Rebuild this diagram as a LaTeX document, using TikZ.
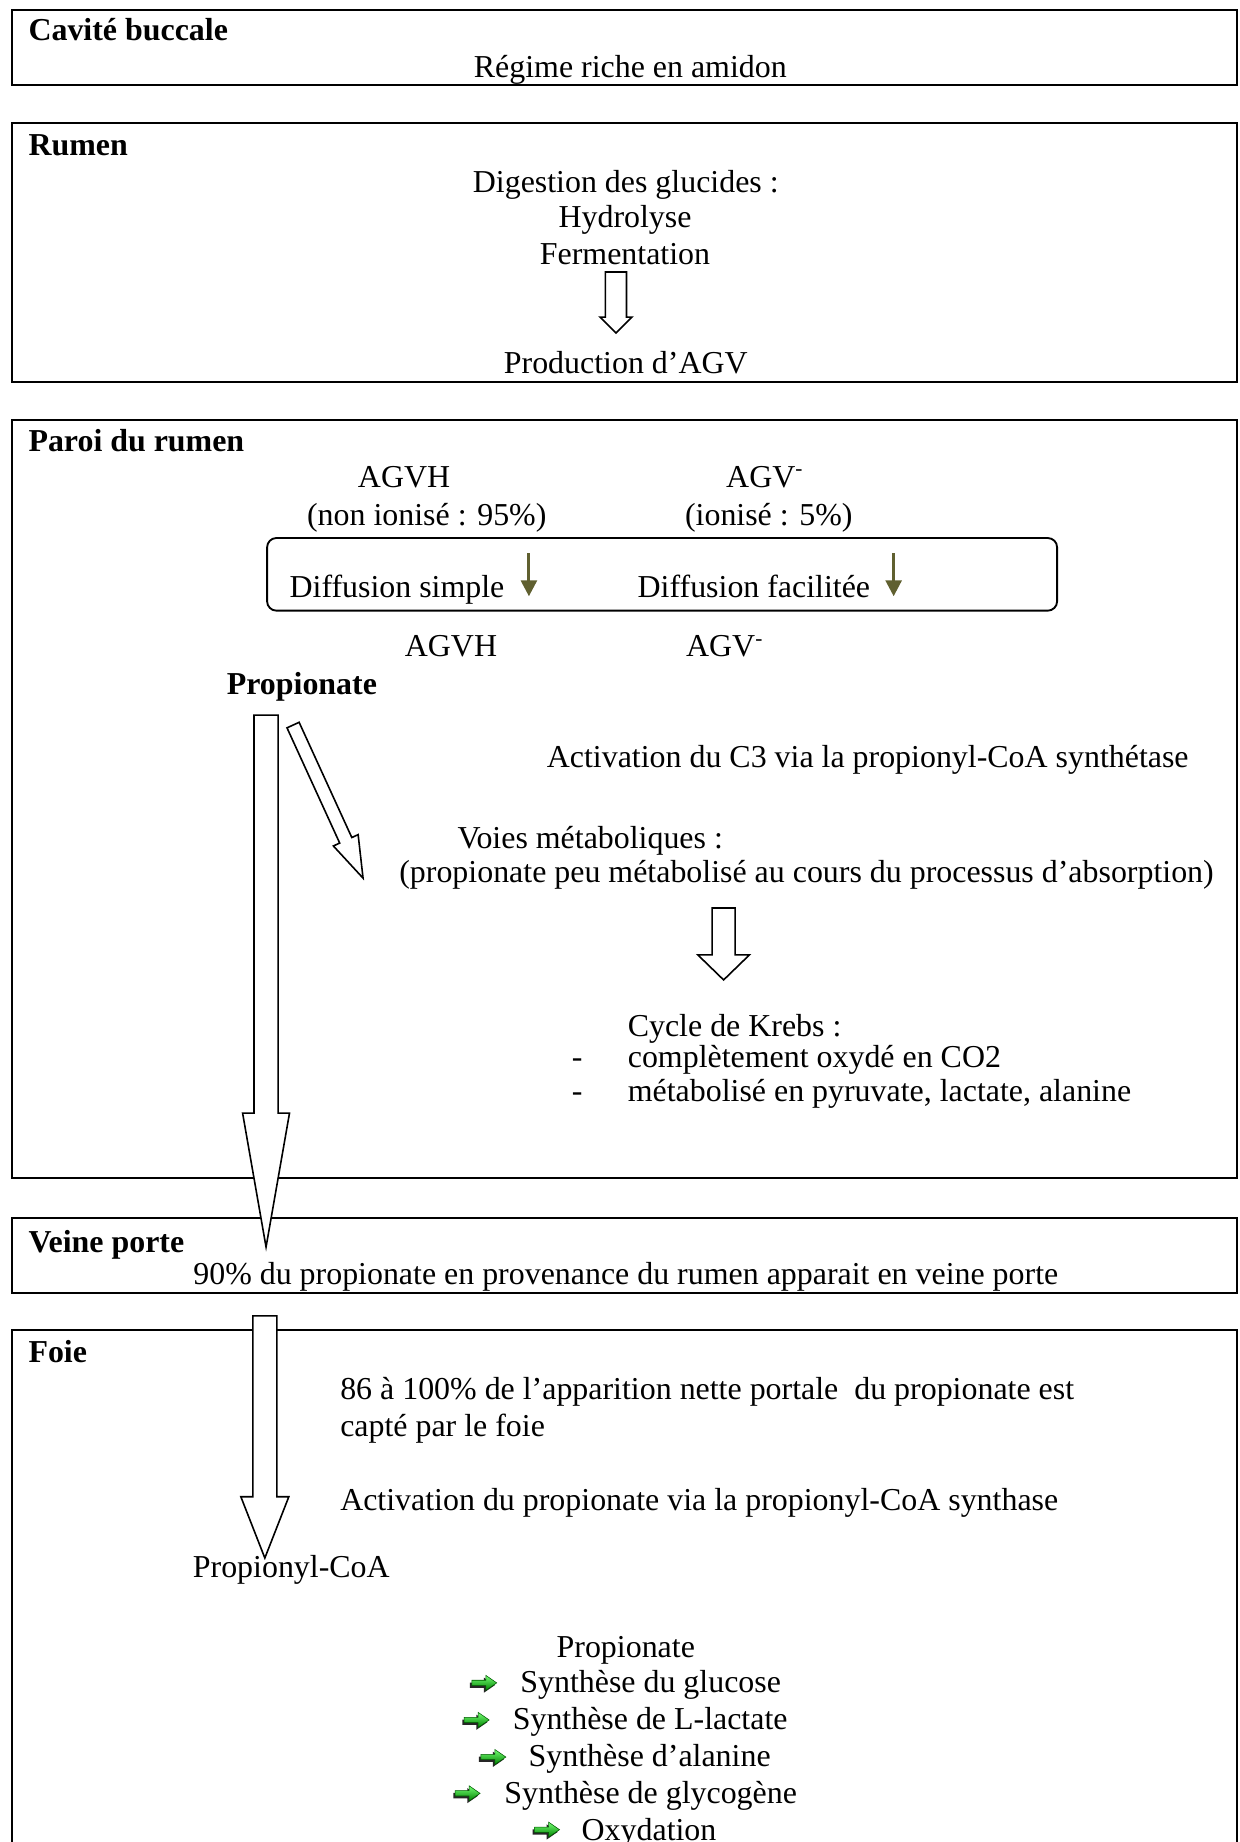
\documentclass[tikz,border=0pt]{standalone}
\usepackage{fontspec}
\setmainfont{Liberation Serif}
\usepackage{tikz}
\usetikzlibrary{arrows.meta,positioning,calc}
\definecolor{olivearr}{RGB}{96,96,48}
\newcommand{\hollowarrow}[5]{%
  \coordinate (#1h) at ($(#2)!#5!(#1)$);
  \draw[hollowar] ($(#1)!#3!90:(#2)$) -- ($(#1h)!#3!90:(#2)$) -- ($(#1h)!#4!90:(#2)$)
    -- (#2) -- ($(#1h)!#4!-90:(#2)$) -- ($(#1h)!#3!-90:(#2)$) -- ($(#1)!#3!-90:(#2)$) -- cycle;}

\begin{document}
\begin{tikzpicture}[
  every node/.style={font=\fontsize{12pt}{13.8pt}\selectfont, inner sep=0pt},
  zone/.style={draw, line width=0.7pt},
  ttl/.style={anchor=base west, font=\fontsize{12pt}{13.8pt}\selectfont\bfseries},
  ctr/.style={anchor=base},
  lft/.style={anchor=base west},
  memb/.style={draw, rounded corners=3.5pt, line width=0.7pt,
               minimum width=10.44cm, minimum height=0.96cm},
  hollowar/.style={draw, fill=white, line width=0.6pt},
  ol/.style={olivearr, line width=1.1pt, -{Triangle[length=6pt,width=6pt]}},
  garrow/.pic={
    \fill[black!85] (-0.19,0.005) -- (-0.005,0.005) -- (-0.005,0.07) -- (0.14,-0.03)
      -- (-0.005,-0.13) -- (-0.005,-0.065) -- (-0.19,-0.065) -- cycle;
    \shade[top color=green!55!white, bottom color=green!50!black, draw=green!35!black,
      line width=0.2pt] (-0.165,0.035) -- (0.02,0.035) -- (0.02,0.1) -- (0.165,0)
      -- (0.02,-0.1) -- (0.02,-0.035) -- (-0.165,-0.035) -- cycle;}]
  \useasboundingbox (0,0) rectangle (16.387,-24.343);

  \draw[zone] (0.16,-0.13) rectangle (16.35,-1.12);
  \draw[zone] (0.16,-1.63) rectangle (16.35,-5.05);
  \draw[zone] (0.16,-5.55) rectangle (16.35,-15.57);
  \draw[zone] (0.16,-16.10) rectangle (16.35,-17.09);
  \draw[zone] (0.16,-17.58) rectangle (16.35,-24.8);

  \node[ttl] (cav) at (0.37,-0.53) {Cavité buccale};
  \node[ctr] (regime) at (8.33,-1.03) {Régime riche en amidon};

  \node[ttl] (rum) at (0.37,-2.05) {Rumen};
  \node[ctr] (dig) at (8.27,-2.54) {Digestion des glucides :};
  \node[ctr] (hyd) at (8.26,-3.01) {Hydrolyse};
  \node[ctr] (ferm) at (8.26,-3.50) {Fermentation};
  \node[ctr] (prod) at (8.27,-4.93) {Production d’AGV};
  \coordinate (r1) at (8.14,-3.595);
  \coordinate (r2) at (8.14,-4.40);
  \hollowarrow{r1}{r2}{0.139cm}{0.21cm}{0.21cm}

  \node[ttl] (paroi) at (0.37,-5.97) {Paroi du rumen};
  \node[ctr] (agvh) at (5.34,-6.44) {AGVH};
  \node[ctr] (nonion) at (5.64,-6.94) {(non ionisé : 95\%)};
  \node[ctr] (agvm) at (10.11,-6.44) {AGV\textsuperscript{-}};
  \node[ctr] (ion) at (10.16,-6.94) {(ionisé : 5\%)};
  \node[memb] (mb) at (8.75,-7.59) {};
  \node[lft] (dsimple) at (3.82,-7.89) {Diffusion simple};
  \node[lft] (dfac) at (8.42,-7.89) {Diffusion facilitée};
  \coordinate (o1a) at (6.99,-7.31);
  \coordinate (o1b) at (6.99,-7.88);
  \coordinate (o2a) at (11.81,-7.31);
  \coordinate (o2b) at (11.81,-7.88);
  \draw[ol] (o1a) -- (o1b);
  \draw[ol] (o2a) -- (o2b);
  \node[ctr] (agvh2) at (5.96,-8.68) {AGVH};
  \node[ctr] (agvm2) at (9.58,-8.68) {AGV\textsuperscript{-}};
  \node[ttl, anchor=base] (prop) at (3.99,-9.18) {Propionate};
  \node[lft] (actc3) at (7.22,-10.14) {Activation du C3 via la propionyl-CoA synthétase};
  \node[lft] (voies) at (6.04,-11.21) {Voies métaboliques :};
  \node[lft] (propeu) at (5.27,-11.66)
    {(propionate peu métabolisé au cours du processus d’absorption)};
  \node[lft] (krebs) at (8.29,-13.70) {Cycle de Krebs :};
  \node[lft] (kr1) at (7.55,-14.11) {-\hspace{0.6cm}complètement oxydé en CO2};
  \node[lft] (kr2) at (7.55,-14.56) {-\hspace{0.6cm}métabolisé en pyruvate, lactate, alanine};
  \coordinate (kb1) at (9.563,-12.0);
  \coordinate (kb2) at (9.563,-12.95);
  \hollowarrow{kb1}{kb2}{0.152cm}{0.34cm}{0.33cm}
  \coordinate (d1) at (3.873,-9.582);
  \coordinate (d2) at (4.798,-11.605);
  \hollowarrow{d1}{d2}{0.088cm}{0.18cm}{0.55cm}

  \node[ttl] (veine) at (0.37,-16.55) {Veine porte};
  \node[ctr] (pct) at (8.27,-16.98)
    {90\% du propionate en provenance du rumen apparait en veine porte};
  \coordinate (p1) at (3.516,-9.45);
  \coordinate (p2) at (3.516,-16.48);
  \hollowarrow{p1}{p2}{0.159cm}{0.31cm}{1.77cm}

  \node[ttl] (foie) at (0.37,-18.01) {Foie};
  \node[lft] (capt1) at (4.49,-18.50)
    {86 à 100\% de l’apparition nette portale\ \ du propionate est};
  \node[lft] (capt2) at (4.49,-18.99) {capté par le foie};
  \node[lft] (actprop) at (4.49,-19.96)
    {Activation du propionate via la propionyl-CoA synthase};
  \node[ctr] (pcoa) at (3.85,-20.85) {Propionyl-CoA};
  \coordinate (f1) at (3.50,-17.39);
  \coordinate (f2) at (3.50,-20.59);
  \hollowarrow{f1}{f2}{0.159cm}{0.317cm}{0.81cm}

  \node[ctr] (prop2) at (8.27,-21.90) {Propionate};
  \node[lft] (s1) at (6.87,-22.37) {Synthèse du glucose};
  \node[lft] (s2) at (6.77,-22.86) {Synthèse de L-lactate};
  \node[lft] (s3) at (6.98,-23.35) {Synthèse d’alanine};
  \node[lft] (s4) at (6.66,-23.83) {Synthèse de glycogène};
  \node[lft] (s5) at (7.68,-24.32) {Oxydation};
  \pic at (6.40,-22.24) {garrow};
  \pic at (6.30,-22.73) {garrow};
  \pic at (6.52,-23.22) {garrow};
  \pic at (6.18,-23.70) {garrow};
  \pic at (7.23,-24.18) {garrow};
\end{tikzpicture}
\end{document}
